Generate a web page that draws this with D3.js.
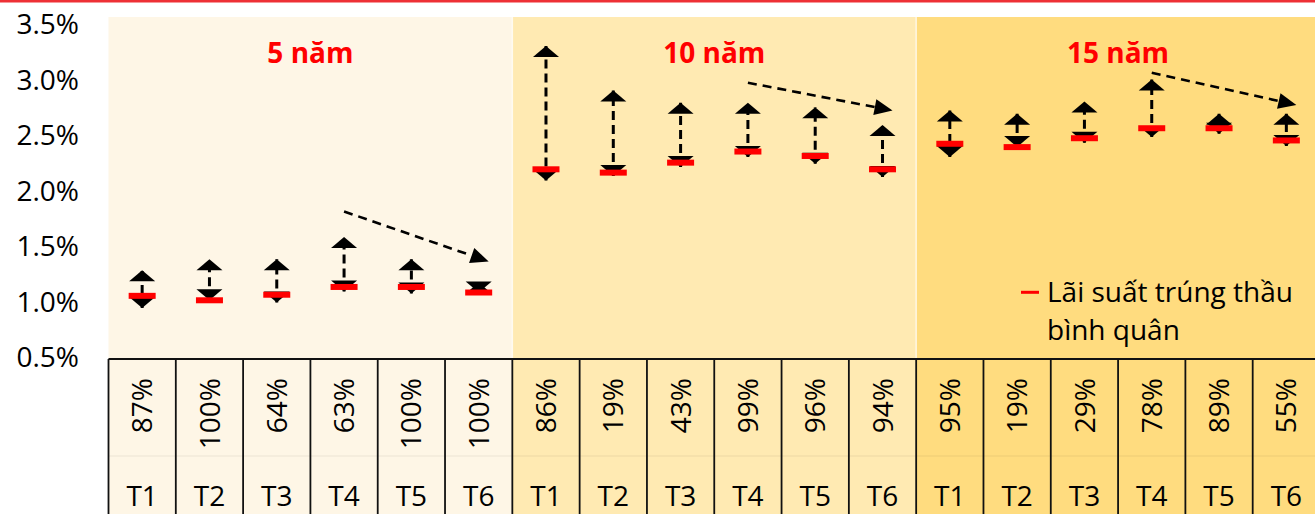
<!DOCTYPE html>
<html>
<head>
<meta charset="utf-8">
<script src="https://cdn.jsdelivr.net/npm/d3@7"></script>
<style>
  body { margin: 0; background: #fff; }
  svg { display: block; }
  text { font-family: "Open Sans", "Noto Sans", sans-serif; }
</style>
</head>
<body>
<svg id="chart" width="1315" height="514"></svg>
<script>
// Government bond auctions by tenor and month (% per year)
const tenors = ["5 năm", "10 năm", "15 năm"];
const months = ["T1", "T2", "T3", "T4", "T5", "T6"];

// Highest bid rate, average winning rate, lowest bid rate, and the share of the offer that was sold
const high5  = [1.29, 1.39, 1.39, 1.59, 1.39, 1.18];
const avg5   = [1.06, 1.02, 1.07, 1.14, 1.14, 1.09];
const low5   = [0.95, 1.02, 1.00, 1.10, 1.08, 1.09];
const cover5 = ["87%", "100%", "64%", "63%", "100%", "100%"];

const high10  = [3.31, 2.91, 2.80, 2.80, 2.76, 2.60];
const avg10   = [2.20, 2.17, 2.26, 2.36, 2.32, 2.20];
const low10   = [2.10, 2.14, 2.22, 2.31, 2.25, 2.13];
const cover10 = ["86%", "19%", "43%", "99%", "96%", "94%"];

const high15  = [2.73, 2.70, 2.81, 3.01, 2.70, 2.70];
const avg15   = [2.43, 2.40, 2.48, 2.57, 2.57, 2.46];
const low15   = [2.31, 2.40, 2.44, 2.49, 2.52, 2.41];
const cover15 = ["95%", "19%", "29%", "78%", "89%", "55%"];

const yTicks = [0.5, 1.0, 1.5, 2.0, 2.5, 3.0, 3.5];

// Downward trend arrows drawn from T4 to T6 in each tenor
const trendFromMonth = "T4";
const trendToMonth = "T6";
const trendStart = [1.82, 2.98, 3.07];
const trendEnd   = [1.37, 2.73, 2.78];

const legendLines = ["Lãi suất trúng thầu", "bình quân"];

const panelFills = ["#FEF6E6", "#FFEAB2", "#FFDC7F"];
const FS = 28;

// ---- build rows
const series = [
  { high: high5,  avg: avg5,  low: low5,  cover: cover5 },
  { high: high10, avg: avg10, low: low10, cover: cover10 },
  { high: high15, avg: avg15, low: low15, cover: cover15 }
];
const rows = [];
tenors.forEach((t, gi) => {
  months.forEach((m, mi) => {
    rows.push({
      key: t + "|" + m, tenor: t, month: m,
      high: series[gi].high[mi], avg: series[gi].avg[mi],
      low: series[gi].low[mi], cover: series[gi].cover[mi]
    });
  });
});

const W = 1315, H = 514;
const svg = d3.select("#chart");

const x = d3.scaleBand().domain(rows.map(d => d.key)).range([108.5, 1320]).padding(0);
const y = d3.scaleLinear().domain([0.5, 3.5]).range([358, 25]);
const bw = x.bandwidth();
const cx = k => x(k) + bw / 2;

const panelTop = 17, tableTop = 359;

// red rule along the top edge
svg.append("rect").attr("x", 0).attr("y", 0).attr("width", W).attr("height", 2.5).attr("fill", "#EE3035");

// tenor panels (plot + table cells share the fill)
tenors.forEach((t, gi) => {
  const x0 = x(t + "|" + months[0]);
  const x1 = x(t + "|" + months[months.length - 1]) + bw;
  svg.append("rect")
    .attr("x", x0).attr("y", panelTop)
    .attr("width", x1 - x0).attr("height", H - panelTop)
    .attr("fill", panelFills[gi]);
  if (gi > 0) {
    svg.append("line")
      .attr("x1", x0).attr("x2", x0).attr("y1", panelTop).attr("y2", tableTop)
      .attr("stroke", "#fff").attr("stroke-opacity", 0.7).attr("stroke-width", 1.5);
  }
  svg.append("text")
    .attr("x", (x0 + x1) / 2).attr("y", 63)
    .attr("text-anchor", "middle")
    .attr("font-size", FS).attr("font-weight", 700)
    .attr("fill", "#FF0000")
    .text(t);
});

// y axis labels
const yAxis = d3.axisLeft(y).tickValues(yTicks).tickSize(0).tickPadding(0)
  .tickFormat(d => d3.format(".1f")(d) + "%");
const gy = svg.append("g").attr("transform", "translate(79,0)").call(yAxis);
gy.select(".domain").remove();
gy.selectAll("text")
  .attr("font-size", FS).attr("fill", "#000")
  .style("font-family", "\"Open Sans\", sans-serif");

// table grid
const grid = svg.append("g");
grid.append("line")
  .attr("x1", 108.5).attr("x2", W).attr("y1", tableTop).attr("y2", tableTop)
  .attr("stroke", "#111").attr("stroke-width", 2);
grid.append("line")
  .attr("x1", 108.5).attr("x2", W).attr("y1", 456).attr("y2", 456)
  .attr("stroke", "#000").attr("stroke-opacity", 0.07).attr("stroke-width", 1);
grid.selectAll("line.col").data(rows).join("line")
  .attr("class", "col")
  .attr("x1", d => x(d.key)).attr("x2", d => x(d.key))
  .attr("y1", tableTop).attr("y2", H)
  .attr("stroke", "#111").attr("stroke-width", 1.8);

// sold share (rotated) and month labels
svg.selectAll("text.cover").data(rows).join("text")
  .attr("class", "cover")
  .attr("transform", d => `translate(${cx(d.key)},378) rotate(-90)`)
  .attr("text-anchor", "end").attr("dy", "0.36em")
  .attr("font-size", FS).attr("fill", "#000")
  .text(d => d.cover);
svg.selectAll("text.month").data(rows).join("text")
  .attr("class", "month")
  .attr("x", d => cx(d.key)).attr("y", 506)
  .attr("text-anchor", "middle")
  .attr("font-size", FS).attr("fill", "#000")
  .text(d => d.month);

// bid range: dashed stem with arrowheads at the highest and lowest bids
const headW = 13, headH = 11;
const marks = svg.append("g");
marks.selectAll("line.stem").data(rows).join("line")
  .attr("class", "stem")
  .attr("x1", d => cx(d.key)).attr("x2", d => cx(d.key))
  .attr("y1", d => y(d.low)).attr("y2", d => y(d.high))
  .attr("stroke", "#000").attr("stroke-width", 3).attr("stroke-dasharray", "9,5");
marks.selectAll("path.up").data(rows).join("path")
  .attr("class", "up")
  .attr("d", d => {
    const c = cx(d.key), t = y(d.high);
    return `M${c},${t}L${c - headW},${t + headH}L${c + headW},${t + headH}Z`;
  })
  .attr("fill", "#000");
marks.selectAll("path.down").data(rows).join("path")
  .attr("class", "down")
  .attr("d", d => {
    const c = cx(d.key), b = y(d.low);
    return `M${c},${b}L${c - headW},${b - headH}L${c + headW},${b - headH}Z`;
  })
  .attr("fill", "#000");

// average winning rate
marks.selectAll("rect.avg").data(rows).join("rect")
  .attr("class", "avg")
  .attr("x", d => cx(d.key) - 13.5).attr("y", d => y(d.avg) - 3)
  .attr("width", 27).attr("height", 6)
  .attr("fill", "#FF0000");

// trend arrows
tenors.forEach((t, gi) => {
  const x1 = cx(t + "|" + trendFromMonth), y1 = y(trendStart[gi]);
  const x2 = cx(t + "|" + trendToMonth) + 10, y2 = y(trendEnd[gi]);
  const ang = Math.atan2(y2 - y1, x2 - x1);
  const len = 18, half = 8;
  const bx = x2 - len * Math.cos(ang), by = y2 - len * Math.sin(ang);
  svg.append("line")
    .attr("x1", x1).attr("y1", y1).attr("x2", bx).attr("y2", by)
    .attr("stroke", "#000").attr("stroke-width", 2.6).attr("stroke-dasharray", "9,6");
  const px = -Math.sin(ang) * half, py = Math.cos(ang) * half;
  svg.append("path")
    .attr("d", `M${x2},${y2}L${bx + px},${by + py}L${bx - px},${by - py}Z`)
    .attr("fill", "#000");
});

// legend
const lg = svg.append("g");
lg.append("rect").attr("x", 1021).attr("y", 290.8).attr("width", 18).attr("height", 3).attr("fill", "#FF0000");
lg.selectAll("text").data(legendLines).join("text")
  .attr("x", 1047).attr("y", (d, i) => 302 + i * 38)
  .attr("font-size", FS).attr("fill", "#000")
  .text(d => d);
</script>
</body>
</html>
